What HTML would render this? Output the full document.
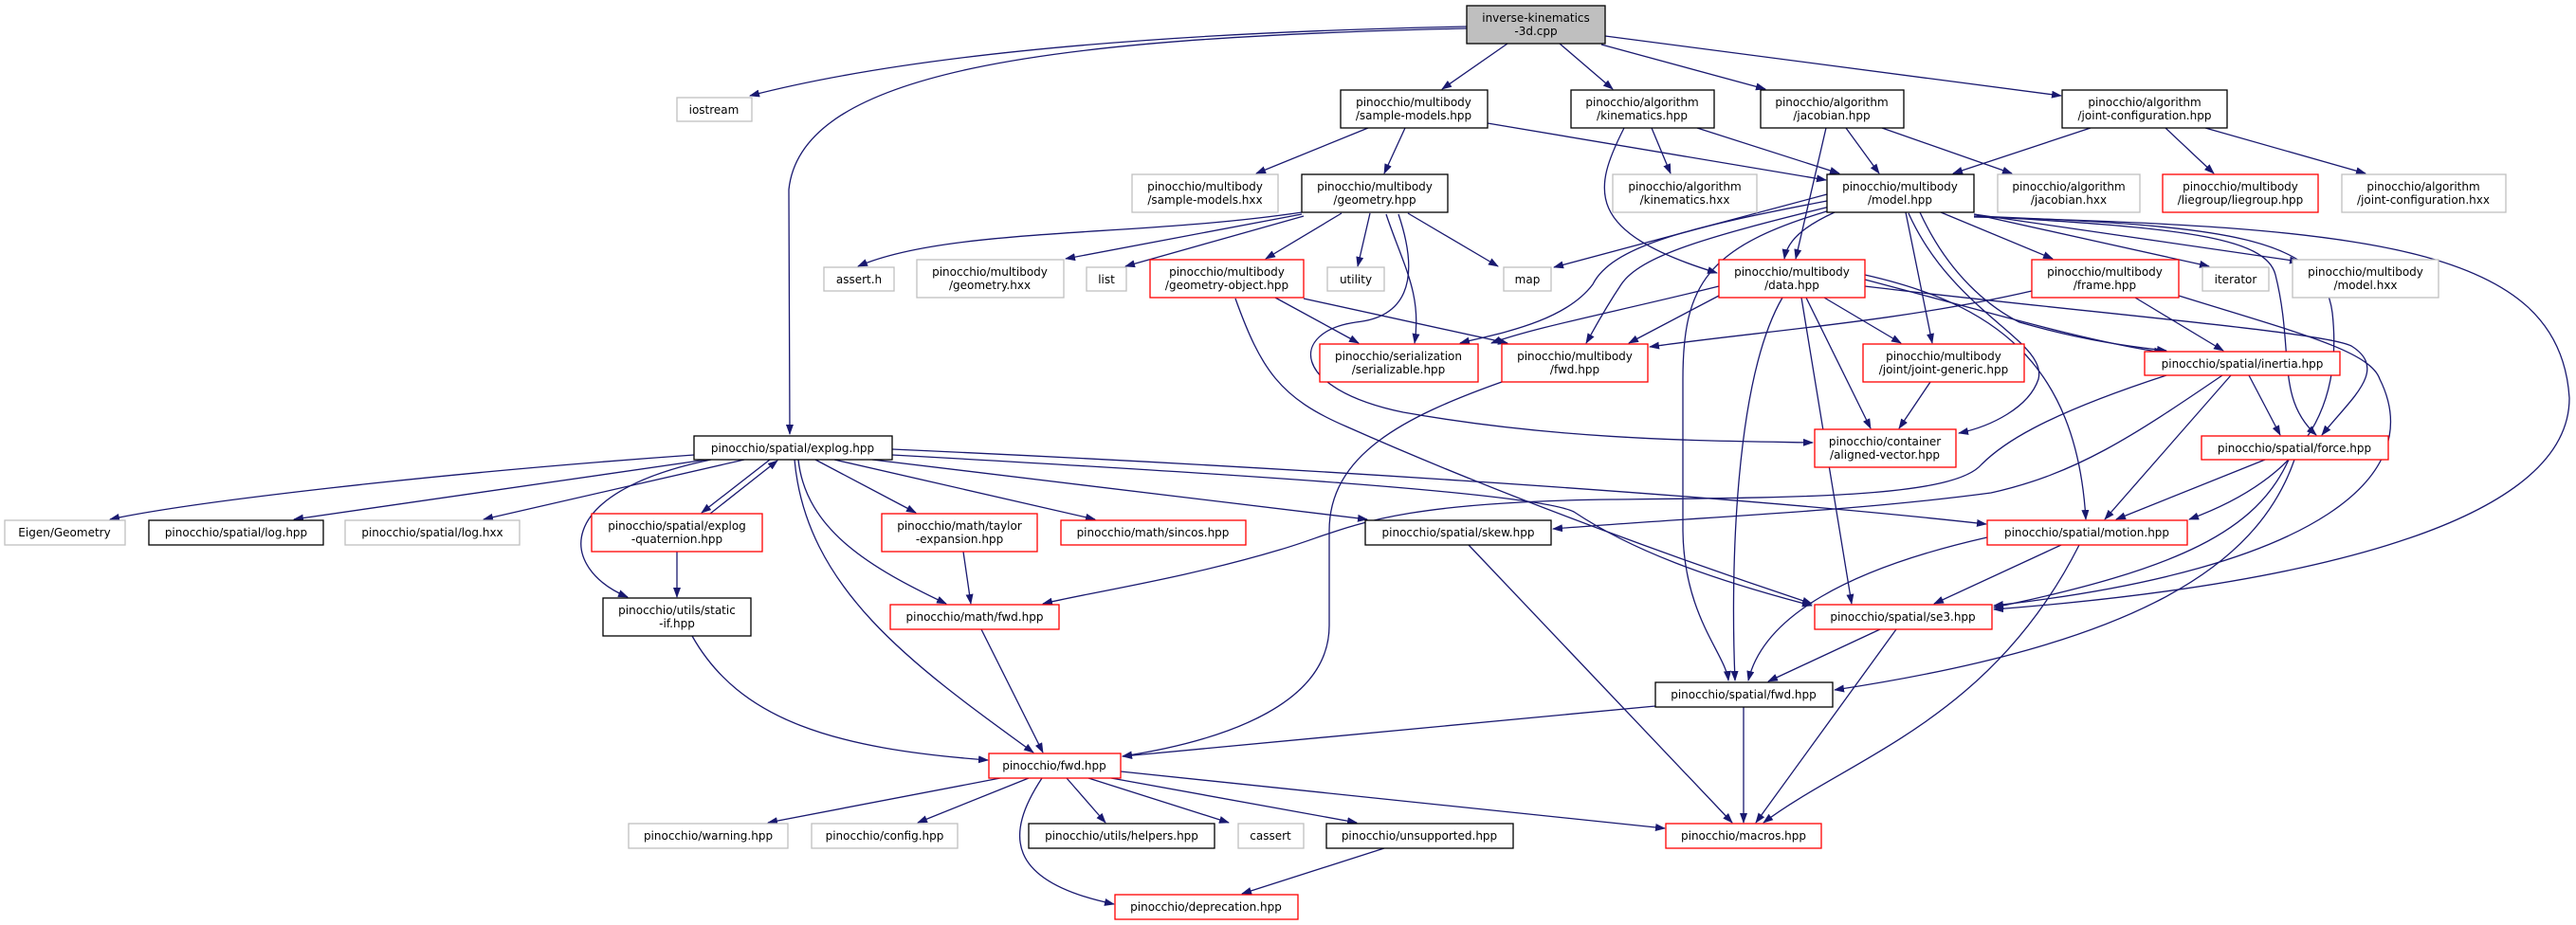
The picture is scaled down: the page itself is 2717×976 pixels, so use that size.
<!DOCTYPE html>
<html><head><meta charset="utf-8"><style>
html,body{margin:0;padding:0;background:#fff;}
svg{display:block;}
text{font-family:"DejaVu Sans","Liberation Sans",sans-serif;font-size:12px;fill:#000;text-anchor:middle;}
.e{fill:none;stroke:#191970;stroke-width:1.3;marker-end:url(#a);}
.b{fill:#fff;stroke:#000;stroke-width:1.3;}
.r{fill:#fff;stroke:#ff0000;stroke-width:1.3;}
.g{fill:#fff;stroke:#bfbfbf;stroke-width:1.3;}
</style></head><body>
<svg width="2717" height="976" viewBox="0 0 2717 976" xmlns="http://www.w3.org/2000/svg">
<defs><marker id="a" markerUnits="userSpaceOnUse" markerWidth="11" markerHeight="8" refX="10" refY="4" orient="auto"><path d="M0,0 L11,4 L0,8 z" fill="#191970"/></marker></defs>

<!-- edges -->
<path class="e" d="M1547,28 C1200,35 950,60 791,101"/>
<path class="e" d="M1547,30 C1100,40 845,75 832,200 L833,458"/>
<path class="e" d="M1590,46 L1521,94"/>
<path class="e" d="M1645,46 L1701,94"/>
<path class="e" d="M1689,47 L1862,94"/>
<path class="e" d="M1693,38 L2174,101"/>
<path class="e" d="M1443,135 L1325,183"/>
<path class="e" d="M1482,135 L1460,183"/>
<path class="e" d="M1569,130 L1926,190"/>
<path class="e" d="M1742,135 L1762,183"/>
<path class="e" d="M1790,135 L1940,183"/>
<path class="e" d="M1713,135 C1680,200 1670,245 1811,288"/>
<path class="e" d="M1947,135 L1982,183"/>
<path class="e" d="M1985,135 L2122,183"/>
<path class="e" d="M1926,135 L1894,273"/>
<path class="e" d="M2205,135 L2060,183"/>
<path class="e" d="M2284,135 L2335,183"/>
<path class="e" d="M2326,135 L2495,183"/>
<path class="e" d="M1373,224 C1200,250 1000,240 905,281"/>
<path class="e" d="M1373,226 L1124,273"/>
<path class="e" d="M1375,228 L1187,281"/>
<path class="e" d="M1415,225 L1335,273"/>
<path class="e" d="M1445,225 L1432,281"/>
<path class="e" d="M1485,225 L1580,281"/>
<path class="e" d="M1462,226 C1480,280 1500,310 1492,362"/>
<path class="e" d="M1475,226 C1500,300 1480,335 1430,340 C1360,350 1360,410 1480,435 C1650,465 1800,465 1912,467"/>
<path class="e" d="M1345,314 L1433,362"/>
<path class="e" d="M1375,315 L1590,362"/>
<path class="e" d="M1303,315 C1330,390 1350,420 1420,450 C1600,530 1800,600 1911,637"/>
<path class="e" d="M1584,403 C1480,440 1402,480 1402,560 L1402,660 C1402,740 1300,780 1184,798"/>
<path class="e" d="M1927,205 L1639,282"/>
<path class="e" d="M1927,212 C1780,240 1700,260 1680,300 C1650,340 1580,352 1540,362"/>
<path class="e" d="M1930,218 C1800,250 1730,270 1710,300 C1690,330 1680,350 1673,362"/>
<path class="e" d="M1935,224 C1900,240 1885,255 1882,273"/>
<path class="e" d="M2047,224 L2165,273"/>
<path class="e" d="M2082,226 L2330,281"/>
<path class="e" d="M2082,226 L2425,276"/>
<path class="e" d="M2010,224 L2038,362"/>
<path class="e" d="M2013,225 C2060,330 2160,360 2150,400 C2140,430 2100,450 2066,457"/>
<path class="e" d="M2025,224 C2060,300 2110,330 2130,340 C2200,360 2250,366 2285,370"/>
<path class="e" d="M2082,228 C2300,240 2390,250 2400,290 C2420,370 2400,420 2443,459"/>
<path class="e" d="M2082,228 C2350,238 2450,250 2460,330 C2470,420 2440,500 2309,548"/>
<path class="e" d="M2082,229 C2500,240 2700,260 2710,420 C2710,560 2400,620 2103,643"/>
<path class="e" d="M1930,222 C1800,260 1775,300 1775,400 L1775,560 C1776,650 1820,690 1823,718"/>
<path class="e" d="M1880,314 C1830,400 1825,600 1830,718"/>
<path class="e" d="M1900,314 L1953,637"/>
<path class="e" d="M1905,314 L1973,452"/>
<path class="e" d="M1924,314 L2005,362"/>
<path class="e" d="M1813,312 L1718,362"/>
<path class="e" d="M1813,302 C1700,330 1620,345 1573,362"/>
<path class="e" d="M1967,295 C2100,330 2200,360 2282,372"/>
<path class="e" d="M1967,302 C2200,330 2450,350 2480,365 C2520,390 2480,420 2449,459"/>
<path class="e" d="M1967,290 C2100,320 2190,380 2200,548"/>
<path class="e" d="M2143,307 C2000,340 1850,350 1740,366"/>
<path class="e" d="M2252,314 L2345,370"/>
<path class="e" d="M2298,312 C2420,350 2500,370 2510,400 C2560,500 2450,600 2103,639"/>
<path class="e" d="M2036,403 L2003,452"/>
<path class="e" d="M2372,396 L2405,459"/>
<path class="e" d="M2353,396 L2220,548"/>
<path class="e" d="M2285,396 C2150,440 2110,470 2090,490 C2060,525 1900,525 1700,527 C1450,530 1420,560 1350,580 C1250,610 1150,625 1100,637"/>
<path class="e" d="M2344,396 C2250,460 2190,500 2100,520 C1950,540 1800,545 1638,558"/>
<path class="e" d="M2389,485 L2232,548"/>
<path class="e" d="M2414,485 C2380,560 2300,600 2103,641"/>
<path class="e" d="M2420,485 C2380,600 2250,680 1935,728"/>
<path class="e" d="M2096,567 C1950,600 1860,650 1844,718"/>
<path class="e" d="M2174,575 L2040,637"/>
<path class="e" d="M2193,575 C2100,760 1950,800 1860,868"/>
<path class="e" d="M1983,664 L1865,719"/>
<path class="e" d="M2000,664 L1852,868"/>
<path class="e" d="M1839,746 L1839,868"/>
<path class="e" d="M1746,745 L1184,798"/>
<path class="e" d="M1549,575 L1827,868"/>
<path class="e" d="M1055,821 L810,868"/>
<path class="e" d="M1085,821 L968,868"/>
<path class="e" d="M1125,821 L1166,868"/>
<path class="e" d="M1148,821 L1296,868"/>
<path class="e" d="M1172,821 L1431,868"/>
<path class="e" d="M1182,814 L1756,874"/>
<path class="e" d="M1099,821 C1060,880 1060,930 1175,954"/>
<path class="e" d="M1460,895 L1310,943"/>
<path class="e" d="M1035,664 L1100,794"/>
<path class="e" d="M1016,582 L1024,637"/>
<path class="e" d="M730,671 C780,760 880,790 1042,802"/>
<path class="e" d="M714,582 L714,630"/>
<path class="e" d="M812,485 L740,541"/>
<path class="e" d="M749,542 L820,486"/>
<path class="e" d="M732,480 C450,500 200,530 116,548"/>
<path class="e" d="M745,485 L310,548"/>
<path class="e" d="M785,485 L510,548"/>
<path class="e" d="M750,485 C580,520 590,600 662,630"/>
<path class="e" d="M842,485 C850,560 920,600 998,637"/>
<path class="e" d="M838,485 C850,620 960,700 1090,794"/>
<path class="e" d="M860,485 L966,541"/>
<path class="e" d="M880,485 L1155,548"/>
<path class="e" d="M920,485 L1442,548"/>
<path class="e" d="M941,474 C1300,490 1800,520 2095,553"/>
<path class="e" d="M941,480 C1300,500 1620,520 1660,540 C1720,580 1800,610 1911,639"/>

<!-- nodes -->
<rect x="1547" y="6" width="146" height="40" fill="#bfbfbf" stroke="#000" stroke-width="1.3"/><text x="1620" y="23">inverse-kinematics</text><text x="1620" y="37">-3d.cpp</text>
<rect class="g" x="714" y="103" width="79" height="25"/><text x="753" y="120">iostream</text>
<rect class="b" x="1414" y="95" width="155" height="40"/><text x="1491" y="112">pinocchio/multibody</text><text x="1491" y="126">/sample-models.hpp</text>
<rect class="b" x="1657" y="95" width="151" height="40"/><text x="1732" y="112">pinocchio/algorithm</text><text x="1732" y="126">/kinematics.hpp</text>
<rect class="b" x="1857" y="95" width="151" height="40"/><text x="1932" y="112">pinocchio/algorithm</text><text x="1932" y="126">/jacobian.hpp</text>
<rect class="b" x="2175" y="95" width="174" height="40"/><text x="2262" y="112">pinocchio/algorithm</text><text x="2262" y="126">/joint-configuration.hpp</text>
<rect class="g" x="1194" y="184" width="154" height="40"/><text x="1271" y="201">pinocchio/multibody</text><text x="1271" y="215">/sample-models.hxx</text>
<rect class="b" x="1373" y="184" width="154" height="40"/><text x="1450" y="201">pinocchio/multibody</text><text x="1450" y="215">/geometry.hpp</text>
<rect class="g" x="1701" y="184" width="152" height="40"/><text x="1777" y="201">pinocchio/algorithm</text><text x="1777" y="215">/kinematics.hxx</text>
<rect class="b" x="1927" y="184" width="155" height="40"/><text x="2004" y="201">pinocchio/multibody</text><text x="2004" y="215">/model.hpp</text>
<rect class="g" x="2107" y="184" width="150" height="40"/><text x="2182" y="201">pinocchio/algorithm</text><text x="2182" y="215">/jacobian.hxx</text>
<rect class="r" x="2281" y="184" width="164" height="40"/><text x="2363" y="201">pinocchio/multibody</text><text x="2363" y="215">/liegroup/liegroup.hpp</text>
<rect class="g" x="2470" y="184" width="173" height="40"/><text x="2556" y="201">pinocchio/algorithm</text><text x="2556" y="215">/joint-configuration.hxx</text>
<rect class="g" x="869" y="282" width="74" height="25"/><text x="906" y="299">assert.h</text>
<rect class="g" x="967" y="274" width="155" height="40"/><text x="1044" y="291">pinocchio/multibody</text><text x="1044" y="305">/geometry.hxx</text>
<rect class="g" x="1146" y="282" width="42" height="25"/><text x="1167" y="299">list</text>
<rect class="r" x="1213" y="274" width="162" height="40"/><text x="1294" y="291">pinocchio/multibody</text><text x="1294" y="305">/geometry-object.hpp</text>
<rect class="g" x="1400" y="282" width="60" height="25"/><text x="1430" y="299">utility</text>
<rect class="g" x="1586" y="282" width="50" height="25"/><text x="1611" y="299">map</text>
<rect class="r" x="1813" y="274" width="154" height="40"/><text x="1890" y="291">pinocchio/multibody</text><text x="1890" y="305">/data.hpp</text>
<rect class="r" x="2143" y="274" width="155" height="40"/><text x="2220" y="291">pinocchio/multibody</text><text x="2220" y="305">/frame.hpp</text>
<rect class="g" x="2323" y="282" width="70" height="25"/><text x="2358" y="299">iterator</text>
<rect class="g" x="2418" y="274" width="154" height="40"/><text x="2495" y="291">pinocchio/multibody</text><text x="2495" y="305">/model.hxx</text>
<rect class="r" x="1392" y="363" width="167" height="40"/><text x="1475" y="380">pinocchio/serialization</text><text x="1475" y="394">/serializable.hpp</text>
<rect class="r" x="1584" y="363" width="154" height="40"/><text x="1661" y="380">pinocchio/multibody</text><text x="1661" y="394">/fwd.hpp</text>
<rect class="r" x="1965" y="363" width="170" height="40"/><text x="2050" y="380">pinocchio/multibody</text><text x="2050" y="394">/joint/joint-generic.hpp</text>
<rect class="r" x="2262" y="371" width="206" height="25"/><text x="2365" y="388">pinocchio/spatial/inertia.hpp</text>
<rect class="r" x="1914" y="453" width="149" height="40"/><text x="1988" y="470">pinocchio/container</text><text x="1988" y="484">/aligned-vector.hpp</text>
<rect class="r" x="2322" y="460" width="197" height="25"/><text x="2420" y="477">pinocchio/spatial/force.hpp</text>
<rect class="b" x="732" y="460" width="209" height="25"/><text x="836" y="477">pinocchio/spatial/explog.hpp</text>
<rect class="g" x="5" y="549" width="127" height="26"/><text x="68" y="566">Eigen/Geometry</text>
<rect class="b" x="157" y="549" width="184" height="26"/><text x="249" y="566">pinocchio/spatial/log.hpp</text>
<rect class="g" x="364" y="549" width="184" height="26"/><text x="456" y="566">pinocchio/spatial/log.hxx</text>
<rect class="r" x="624" y="542" width="180" height="40"/><text x="714" y="559">pinocchio/spatial/explog</text><text x="714" y="573">-quaternion.hpp</text>
<rect class="r" x="930" y="542" width="164" height="40"/><text x="1012" y="559">pinocchio/math/taylor</text><text x="1012" y="573">-expansion.hpp</text>
<rect class="r" x="1119" y="549" width="195" height="26"/><text x="1216" y="566">pinocchio/math/sincos.hpp</text>
<rect class="b" x="1440" y="549" width="196" height="26"/><text x="1538" y="566">pinocchio/spatial/skew.hpp</text>
<rect class="r" x="2096" y="549" width="211" height="26"/><text x="2201" y="566">pinocchio/spatial/motion.hpp</text>
<rect class="b" x="636" y="631" width="156" height="40"/><text x="714" y="648">pinocchio/utils/static</text><text x="714" y="662">-if.hpp</text>
<rect class="r" x="939" y="638" width="178" height="26"/><text x="1028" y="655">pinocchio/math/fwd.hpp</text>
<rect class="r" x="1914" y="638" width="187" height="26"/><text x="2007" y="655">pinocchio/spatial/se3.hpp</text>
<rect class="b" x="1746" y="720" width="187" height="26"/><text x="1839" y="737">pinocchio/spatial/fwd.hpp</text>
<rect class="r" x="1043" y="795" width="139" height="26"/><text x="1112" y="812">pinocchio/fwd.hpp</text>
<rect class="g" x="663" y="869" width="168" height="26"/><text x="747" y="886">pinocchio/warning.hpp</text>
<rect class="g" x="856" y="869" width="154" height="26"/><text x="933" y="886">pinocchio/config.hpp</text>
<rect class="b" x="1085" y="869" width="196" height="26"/><text x="1183" y="886">pinocchio/utils/helpers.hpp</text>
<rect class="g" x="1306" y="869" width="69" height="26"/><text x="1340" y="886">cassert</text>
<rect class="b" x="1399" y="869" width="197" height="26"/><text x="1497" y="886">pinocchio/unsupported.hpp</text>
<rect class="r" x="1757" y="869" width="164" height="26"/><text x="1839" y="886">pinocchio/macros.hpp</text>
<rect class="r" x="1176" y="944" width="193" height="26"/><text x="1272" y="961">pinocchio/deprecation.hpp</text>
</svg>
</body></html>
